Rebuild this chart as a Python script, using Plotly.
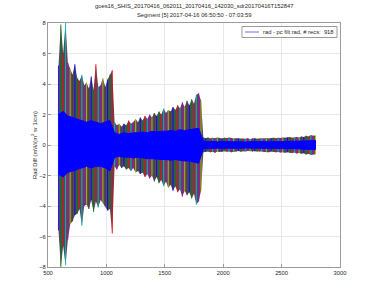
import plotly.graph_objects as go

# ---- data ----
x_outer = list(range(590, 2791, 20))
upper = [5.2, 7.9, 6.0, 8.0, 5.4, 5.0, 4.6, 5.3, 4.4, 4.2, 4.6, 3.9, 4.1, 3.7, 4.5, 3.6, 5.3, 3.8, 3.9, 4.4, 3.8, 4.3, 4.6, 4.9,
         1.5, 1.3, 1.4, 1.2, 1.4, 1.3, 1.6, 1.4, 1.5, 1.7, 1.5, 1.8, 1.6, 1.9, 1.7, 2.0, 1.8, 2.1, 1.9, 2.2, 2.0, 2.4, 2.1, 2.3, 2.2, 2.5, 2.3, 2.6, 2.4, 2.8, 2.5, 2.9, 2.6, 3.0, 2.7, 3.3, 3.4, 2.9,
         0.50, 0.45, 0.50, 0.42, 0.48, 0.44, 0.50, 0.45, 0.43, 0.47, 0.44, 0.50, 0.46, 0.42, 0.45, 0.44, 0.40, 0.43, 0.41, 0.44, 0.40, 0.42, 0.45, 0.41, 0.43, 0.44, 0.42, 0.46, 0.43, 0.45, 0.47, 0.44, 0.48, 0.46, 0.50, 0.47, 0.49, 0.52, 0.48, 0.50, 0.53, 0.50, 0.55, 0.52, 0.60, 0.55, 0.65, 0.60, 0.62]
lower = [-5.6, -8.0, -6.6, -7.9, -6.2, -5.2, -5.0, -4.6, -4.5, -4.2, -5.3, -4.0, -3.9, -4.2, -3.6, -4.4, -3.7, -4.1, -3.6, -3.8, -4.0, -4.3, -4.2, -5.8,
         -1.4, -1.6, -1.3, -1.5, -1.4, -1.6, -1.5, -1.7, -1.5, -1.8, -1.7, -1.9, -1.8, -2.1, -1.9, -2.2, -2.0, -2.4, -2.1, -2.5, -2.3, -2.7, -2.4, -2.8, -2.6, -3.0, -2.7, -3.1, -2.9, -3.4, -3.0, -3.3, -3.1, -3.5, -3.2, -3.9, -3.7, -3.0,
         -0.48, -0.44, -0.42, -0.47, -0.45, -0.50, -0.43, -0.46, -0.44, -0.41, -0.45, -0.43, -0.47, -0.44, -0.42, -0.40, -0.44, -0.41, -0.43, -0.40, -0.42, -0.44, -0.41, -0.45, -0.42, -0.43, -0.46, -0.44, -0.47, -0.43, -0.45, -0.48, -0.46, -0.49, -0.47, -0.51, -0.48, -0.50, -0.53, -0.49, -0.55, -0.52, -0.57, -0.54, -0.62, -0.58, -0.66, -0.61, -0.60]

x_core = list(range(590, 2791, 40))
core_up = [2.0, 2.2, 1.9, 1.8, 1.7, 1.6, 1.5, 1.6, 1.5, 1.4, 1.5, 1.6,
           0.8, 0.7, 0.8, 0.75, 0.8, 0.8, 0.85, 0.8, 0.9, 0.85, 0.9, 0.9, 0.95, 0.9, 1.0, 0.95, 1.0, 1.05, 1.1,
           0.25, 0.22, 0.24, 0.21, 0.23, 0.22, 0.2, 0.22, 0.21, 0.2, 0.22, 0.21, 0.22, 0.2, 0.22, 0.23, 0.22, 0.24, 0.23, 0.25, 0.24, 0.26, 0.27, 0.28, 0.3]
core_lo = [-1.9, -2.1, -1.8, -1.7, -1.6, -1.5, -1.4, -1.5, -1.4, -1.4, -1.5, -1.7,
           -0.8, -0.75, -0.8, -0.8, -0.85, -0.8, -0.85, -0.9, -0.9, -0.9, -0.95, -0.95, -1.0, -0.95, -1.0, -1.05, -1.05, -1.1, -1.2,
           -0.24, -0.22, -0.23, -0.21, -0.22, -0.21, -0.2, -0.21, -0.22, -0.2, -0.21, -0.22, -0.21, -0.2, -0.22, -0.22, -0.23, -0.23, -0.24, -0.24, -0.25, -0.26, -0.27, -0.28, -0.3]

title_lines = ["goes16_SHIS_20170416_062011_20170416_142030_sdr20170416T152847",
               "Segment [5] 2017-04-16 06:50:50 - 07:03:59"]
legend_label = "rad - pc filt rad, # recs:  918"
x_ticks = [500, 1000, 1500, 2000, 2500, 3000]
y_ticks = [-8, -6, -4, -2, 0, 2, 4, 6, 8]

colors = ["#0000ff", "#008000", "#ff0000", "#00bfbf", "#bf00bf", "#bfbf00", "#404040"]

fig = go.Figure()

# overall spread as a filled envelope (mixed colour)
fig.add_trace(go.Scatter(x=x_outer + x_outer[::-1], y=upper + lower[::-1], mode="lines",
                         fill="toself", fillcolor="#554a5c", line=dict(width=0),
                         showlegend=False, hoverinfo="skip"))

# multicolour record strokes
for ci, col in enumerate(colors):
    xs, ys = [], []
    for i in range(ci, len(x_outer), len(colors)):
        xs += [x_outer[i], x_outer[i], None]
        ys += [lower[i], upper[i], None]
    fig.add_trace(go.Scatter(x=xs, y=ys, mode="lines", line=dict(color=col, width=1.1),
                             opacity=0.8, showlegend=False, hoverinfo="skip"))

# dense blue core
fig.add_trace(go.Scatter(x=x_core + x_core[::-1], y=core_up + core_lo[::-1], mode="lines",
                         fill="toself", fillcolor="#0000ff", line=dict(color="#0000ff", width=1),
                         showlegend=False, hoverinfo="skip"))

FS = 5.8
axis_common = dict(showgrid=True, gridcolor="#e8e8e8", gridwidth=1, zeroline=False,
                   showline=True, linecolor="#9a9a9a", linewidth=1, mirror=True,
                   ticks="inside", ticklen=3, tickcolor="#9a9a9a",
                   tickfont=dict(size=FS, color="#262626"))

def px(xp):
    return (xp - 48) / 292.0

def py(yp):
    return (267 - yp) / 244.0

fig.update_layout(
    width=375, height=301,
    margin=dict(l=48, r=35, t=23, b=34),
    paper_bgcolor="white", plot_bgcolor="white",
    font=dict(family="Liberation Sans, Arial, sans-serif", color="#262626"),
    xaxis=dict(range=[500, 3000], tickvals=x_ticks, **axis_common),
    yaxis=dict(range=[-8, 8], tickvals=y_ticks, automargin=False,
               title=dict(text="Rad Diff (mW/(m<sup>2</sup> sr 1/cm)", font=dict(size=FS), standoff=1),
               **axis_common),
    showlegend=False,
    annotations=[
        dict(text=title_lines[0], xref="paper", yref="paper", x=px(194), y=py(6),
             xanchor="center", yanchor="middle", showarrow=False, font=dict(size=FS, color="#262626")),
        dict(text=title_lines[1], xref="paper", yref="paper", x=px(194), y=py(15),
             xanchor="center", yanchor="middle", showarrow=False, font=dict(size=FS, color="#262626")),
        dict(text=legend_label, xref="paper", yref="paper", x=px(261), y=py(32),
             xanchor="left", yanchor="middle", showarrow=False, font=dict(size=FS, color="#262626")),
    ],
    shapes=[
        dict(type="rect", xref="paper", yref="paper", x0=px(242), x1=px(337), y0=py(37.5), y1=py(26.5),
             line=dict(color="#9a9a9a", width=1), fillcolor="white"),
        dict(type="line", xref="paper", yref="paper", x0=px(245), x1=px(259), y0=py(32), y1=py(32),
             line=dict(color="#6a6aff", width=1)),
    ],
)

fig.write_html("out.html")
